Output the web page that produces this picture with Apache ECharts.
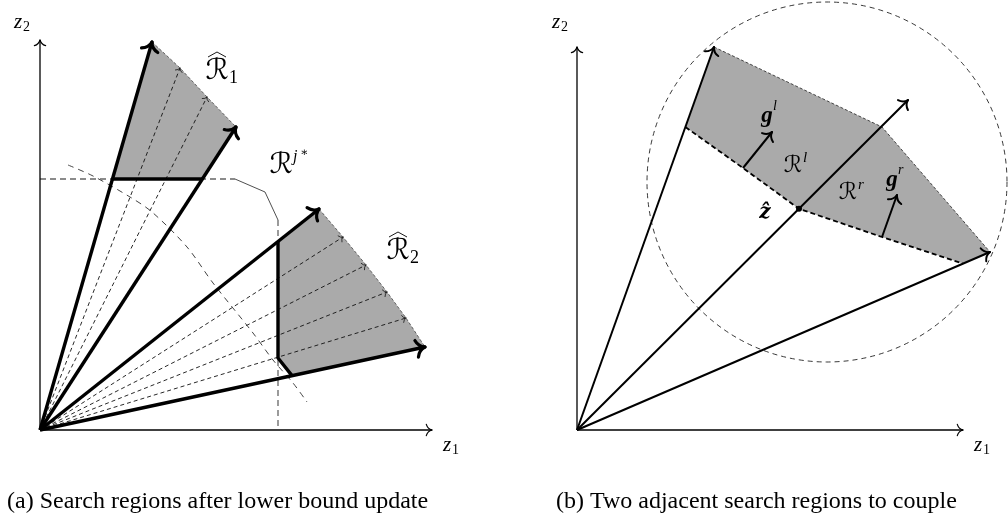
<!DOCTYPE html>
<html>
<head>
<meta charset="utf-8">
<script src="https://cdn.jsdelivr.net/npm/echarts@6/dist/echarts.min.js"></script>
<style>
  html, body { margin: 0; padding: 0; background: #fff; }
  #chart { width: 1008px; height: 522px; }
</style>
</head>
<body>
<div id="chart"></div>
<script>
// ---------- Panel (a): search regions after a lower-bound update ----------
// All coordinates live in objective space (z1, z2).
const axisA = [[0, 0], [9.8, 0], [0, 9.75]];                 // origin, z1 end, z2 end
const raysA = [[2.8, 9.7], [4.9, 7.575], [6.975, 5.525], [9.625, 2.075]];
const edge1 = [[2.8, 9.7], [3.5, 9.05], [4.175, 8.325], [4.9, 7.575]];
const edge2 = [[6.975, 5.525], [7.575, 4.825], [8.15, 4.125], [8.675, 3.45], [9.15, 2.8], [9.625, 2.075]];
const cut1 = [[1.81, 6.275], [4.05, 6.275]];
const cut2 = [[5.95, 4.71], [5.95, 1.8], [6.3, 1.36]];
const lowerBound = [[0.7, 6.625], [1.325, 6.35], [2.25, 5.825], [2.8, 5.45], [3.675, 4.575],
                    [4.325, 3.675], [5.325, 2.425], [5.825, 1.75], [6.325, 1.175], [6.675, 0.7]];
const refRow = [[0, 6.275], [4.875, 6.275]];
const refBend = [[4.875, 6.275], [5.625, 5.95], [5.95, 5.25]];
const refCol = [[5.95, 5.25], [5.95, 0]];

// ---------- Panel (b): two adjacent search regions ----------
const axisB = [[0, 0], [9.65, 0], [0, 9.575]];
const raysB = [[3.425, 9.575], [8.275, 8.25], [10.325, 4.45]];
const upperEdgeB = [[3.425, 9.575], [7.625, 7.575], [10.325, 4.45]];
const lowerEdgeB = [[2.71, 7.575], [4.15, 6.55], [5.55, 5.53], [7.625, 4.825], [9.65, 4.16]];
const zHat = [5.55, 5.53];
const gradL = [[4.15, 6.55], [4.875, 7.45]];
const gradR = [[7.625, 4.825], [8.0, 5.875]];
const ballCenter = [6.25, 6.2];
const ballRadius = 4.5;

// Text labels anchored in objective space
const labelsA = [
  { at: [-0.55, 10.2], base: 'z', sub: '2' },
  { at: [10.175, -0.375], base: 'z', sub: '1' },
  { at: [4.425, 8.975], base: 'ℛ', sub: '1', hat: true },
  { at: [6.025, 6.625], base: 'ℛ', sup: 'j', star: true },
  { at: [8.95, 4.475], base: 'ℛ', sub: '2', hat: true }
];
const labelsB = [
  { at: [-0.525, 10.2], base: 'z', sub: '2' },
  { at: [10.025, -0.375], base: 'z', sub: '1' },
  { at: [4.75, 7.85], base: 'g', sup: 'l' },
  { at: [7.875, 6.25], base: 'g', sup: 'r' },
  { at: [5.4, 6.6], base: 'ℛ', sup: 'l', small: true },
  { at: [6.775, 5.925], base: 'ℛ', sup: 'r', small: true },
  { at: [4.7, 5.425], base: 'ẑ' }
];
const captions = [
  { text: '(a) Search regions after lower bound update', x: 7 },
  { text: '(b) Two adjacent search regions to couple', x: 556 }
];

// ---------- drawing helpers ----------
const SERIF = '"Liberation Serif", "DejaVu Serif", serif';
const SCRIPT = '"DejaVu Serif", "DejaVu Sans", serif';

function poly(points, style, smooth) {
  return {
    type: 'polyline',
    shape: { points: points, smooth: smooth || 0 },
    style: Object.assign({ fill: 'none', stroke: '#000', lineWidth: 1 }, style)
  };
}

// LaTeX-like open arrow tip with slightly curved barbs
function tip(from, to, size, width, color) {
  const dx = to[0] - from[0], dy = to[1] - from[1];
  const len = Math.hypot(dx, dy);
  const ux = dx / len, uy = dy / len;
  const parts = [];
  [1, -1].forEach(function (s) {
    const a = s * 0.78, c = s * 0.25;
    const bx = to[0] - size * (ux * Math.cos(a) - uy * Math.sin(a));
    const by = to[1] - size * (ux * Math.sin(a) + uy * Math.cos(a));
    const cx = to[0] - size * 0.55 * (ux * Math.cos(c) - uy * Math.sin(c));
    const cy = to[1] - size * 0.55 * (ux * Math.sin(c) + uy * Math.cos(c));
    parts.push({
      type: 'bezierCurve',
      shape: { x1: bx, y1: by, x2: to[0], y2: to[1], cpx1: cx, cpy1: cy },
      style: { fill: 'none', stroke: color || '#000', lineWidth: width, lineCap: 'round' }
    });
  });
  return parts;
}

function arrow(from, to, lineW, size, tipW, extra) {
  return [poly([from, to], Object.assign({ lineWidth: lineW }, extra || {}))]
    .concat(tip(from, to, size, tipW, (extra && extra.stroke) || '#000'));
}

function text(x, y, str, font, align) {
  return {
    type: 'text', x: x, y: y,
    style: { text: str, font: font, fill: '#000', align: align || 'center', verticalAlign: 'middle' }
  };
}

function label(api, l) {
  const p = api.coord(l.at);
  const out = [];
  if (l.base === 'z') {
    out.push(text(p[0], p[1], 'z', 'italic 21px ' + SERIF));
    out.push(text(p[0] + 5, p[1] + 5, l.sub, '14px ' + SERIF, 'left'));
  } else if (l.base === 'g') {
    out.push(text(p[0], p[1], 'g', 'italic bold 23px ' + SERIF));
    out.push(text(p[0] + 6, p[1] - 10, l.sup, 'italic 14px ' + SERIF, 'left'));
  } else if (l.base === 'ẑ') {
    out.push(text(p[0], p[1], 'ẑ', 'italic bold 20px ' + SCRIPT));
  } else if (l.small) {
    out.push(text(p[0], p[1], 'ℛ', '23px ' + SCRIPT));
    out.push(text(p[0] + 10, p[1] - 8, l.sup, 'italic 15px ' + SERIF, 'left'));
  } else {
    out.push(text(p[0], p[1], 'ℛ', '29px ' + SCRIPT));
    if (l.sub) out.push(text(p[0] + 12, p[1] + 7, l.sub, '18px ' + SERIF, 'left'));
    if (l.sup) out.push(text(p[0] + 12, p[1] - 8, l.sup, 'italic 16px ' + SERIF, 'left'));
    if (l.star) out.push(text(p[0] + 19, p[1] - 12, '∗', '12px ' + SCRIPT, 'left'));
    if (l.hat) {
      out.push(poly([[p[0] - 9, p[1] - 14], [p[0], p[1] - 19], [p[0] + 9, p[1] - 14]],
        { lineWidth: 0.9 }));
    }
  }
  return out;
}

function panelA(params, api) {
  const c = function (p) { return api.coord(p); };
  const o = c(axisA[0]);
  const kids = [];
  // shaded regions
  const r1 = [cut1[0]].concat(edge1, [cut1[1]]).map(c);
  const r2 = [cut2[0]].concat(edge2, [cut2[2], cut2[1]]).map(c);
  kids.push({ type: 'polygon', shape: { points: r1 }, style: { fill: '#aaaaaa' } });
  kids.push({ type: 'polygon', shape: { points: r2 }, style: { fill: '#aaaaaa' } });
  // inner sample directions
  edge1.slice(1, -1).concat(edge2.slice(1, -1)).forEach(function (p) {
    const q = c(p);
    kids.push(poly([o, q], { stroke: '#111', lineWidth: 0.9, lineDash: [4, 3] }));
    kids.push.apply(kids, tip(o, q, 5, 0.8, '#111'));
  });
  // approximated fronts
  kids.push(poly(edge1.map(c), { stroke: '#555', lineWidth: 0.9, lineDash: [3, 2] }));
  kids.push(poly(edge2.map(c), { stroke: '#555', lineWidth: 0.9, lineDash: [3, 2] }));
  // lower bound curve
  kids.push(poly(lowerBound.map(c), { stroke: '#444', lineWidth: 1, lineDash: [6, 5] }, 0.3));
  // reference region boundary
  kids.push(poly(refRow.map(c), { stroke: '#666', lineWidth: 1.3, lineDash: [6, 4] }));
  kids.push(poly(refBend.map(c), { stroke: '#222', lineWidth: 0.8 }));
  kids.push(poly(refCol.map(c), { stroke: '#666', lineWidth: 1.3, lineDash: [6, 4] }));
  // cuts
  kids.push(poly(cut1.map(c), { lineWidth: 3.4 }));
  kids.push(poly(cut2.map(c), { lineWidth: 3.4, lineJoin: 'round' }));
  // bounding directions
  raysA.forEach(function (p) {
    kids.push.apply(kids, arrow(o, c(p), 3.4, 12, 3.2));
  });
  // axes
  kids.push.apply(kids, arrow(o, c(axisA[1]), 1.3, 8, 1.2));
  kids.push.apply(kids, arrow(o, c(axisA[2]), 1.3, 8, 1.2));
  labelsA.forEach(function (l) { kids.push.apply(kids, label(api, l)); });
  return { type: 'group', children: kids };
}

function panelB(params, api) {
  const c = function (p) { return api.coord(p); };
  const o = c(axisB[0]);
  const kids = [];
  const region = upperEdgeB.concat(lowerEdgeB.slice().reverse()).map(c);
  kids.push({ type: 'polygon', shape: { points: region }, style: { fill: '#aaaaaa' } });
  const cc = c(ballCenter);
  kids.push({
    type: 'circle', shape: { cx: cc[0], cy: cc[1], r: api.size([ballRadius, 0])[0] },
    style: { fill: 'none', stroke: '#222', lineWidth: 0.9, lineDash: [5, 4] }
  });
  kids.push(poly(upperEdgeB.map(c), { stroke: '#444', lineWidth: 1, lineDash: [3, 2] }));
  kids.push(poly(lowerEdgeB.map(c), { stroke: '#000', lineWidth: 1.8, lineDash: [5, 3] }));
  raysB.forEach(function (p) {
    kids.push.apply(kids, arrow(o, c(p), 2, 10, 2));
  });
  kids.push.apply(kids, arrow(c(gradL[0]), c(gradL[1]), 2, 10, 2));
  kids.push.apply(kids, arrow(c(gradR[0]), c(gradR[1]), 2, 10, 2));
  const zp = c(zHat);
  kids.push({ type: 'circle', shape: { cx: zp[0], cy: zp[1], r: 3 }, style: { fill: '#000' } });
  kids.push.apply(kids, arrow(o, c(axisB[1]), 1.3, 8, 1.2));
  kids.push.apply(kids, arrow(o, c(axisB[2]), 1.3, 8, 1.2));
  labelsB.forEach(function (l) { kids.push.apply(kids, label(api, l)); });
  return { type: 'group', children: kids };
}

const chart = echarts.init(document.getElementById('chart'), null, { renderer: 'canvas' });
chart.setOption({
  animation: false,
  backgroundColor: '#fff',
  grid: [
    { left: 40, top: 0, width: 420, height: 430 },
    { left: 577, top: 0, width: 420, height: 430 }
  ],
  xAxis: [
    { type: 'value', gridIndex: 0, min: 0, max: 10.5, show: false },
    { type: 'value', gridIndex: 1, min: 0, max: 10.5, show: false }
  ],
  yAxis: [
    { type: 'value', gridIndex: 0, min: 0, max: 10.75, show: false },
    { type: 'value', gridIndex: 1, min: 0, max: 10.75, show: false }
  ],
  graphic: captions.map(function (cap) {
    return {
      type: 'text', x: cap.x, y: 502,
      style: { text: cap.text, font: '24px ' + SERIF, fill: '#000', align: 'left', verticalAlign: 'middle' }
    };
  }),
  series: [
    { type: 'custom', xAxisIndex: 0, yAxisIndex: 0, clip: false, data: [[0, 0]], renderItem: panelA, silent: true },
    { type: 'custom', xAxisIndex: 1, yAxisIndex: 1, clip: false, data: [[0, 0]], renderItem: panelB, silent: true }
  ]
});
</script>
</body>
</html>
